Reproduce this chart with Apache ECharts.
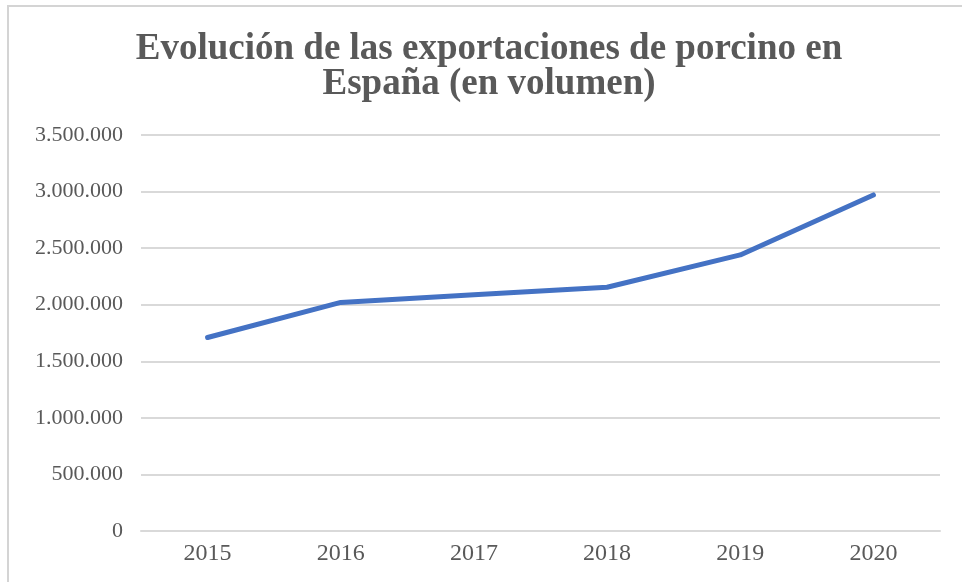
<!DOCTYPE html>
<html>
<head>
<meta charset="utf-8">
<script src="https://cdn.jsdelivr.net/npm/echarts@6/dist/echarts.min.js"></script>
<style>
html,body{margin:0;padding:0;background:#fff;}
#chart{position:absolute;left:0;top:0;width:962px;height:582px;}
#frame{position:absolute;left:7px;top:5px;width:960px;height:590px;border-left:2px solid #d4d4d4;border-top:2px solid #d4d4d4;pointer-events:none;}
</style>
</head>
<body>
<div id="chart"></div>
<div id="frame"></div>
<script>
const titleText = 'Evolución de las exportaciones de porcino en\nEspaña (en volumen)';
const years = ['2015', '2016', '2017', '2018', '2019', '2020'];
const exportVolume = [1710000, 2020000, 2087000, 2154000, 2440000, 2970000];
const yTicks = [0, 500000, 1000000, 1500000, 2000000, 2500000, 3000000, 3500000];

function fmt(v) {
  return String(v).replace(/\B(?=(\d{3})+(?!\d))/g, '.');
}

const chart = echarts.init(document.getElementById('chart'), null, {renderer: 'canvas'});
chart.setOption({
  animation: false,
  backgroundColor: 'transparent',
  title: {
    text: titleText,
    left: 484,
    textAlign: 'center',
    top: 27,
    textStyle: {
      fontFamily: 'Liberation Serif',
      fontWeight: 'bold',
      fontSize: 37,
      lineHeight: 35,
      color: '#595959'
    }
  },
  grid: {left: 141, right: 22, top: 135, bottom: 51, containLabel: false},
  xAxis: {
    type: 'category',
    data: years,
    boundaryGap: true,
    axisLine: {show: true, lineStyle: {color: '#d9d9d9', width: 2}},
    axisTick: {show: false},
    axisLabel: {
      margin: 11,
      fontFamily: 'Liberation Serif',
      fontSize: 24,
      color: '#595959'
    }
  },
  yAxis: {
    type: 'value',
    min: yTicks[0],
    max: yTicks[yTicks.length - 1],
    interval: 500000,
    axisLine: {show: false},
    axisTick: {show: false},
    splitLine: {lineStyle: {color: '#d9d9d9', width: 2}},
    axisLabel: {
      margin: 18,
      fontFamily: 'Liberation Serif',
      fontSize: 22,
      color: '#595959',
      formatter: fmt
    }
  },
  series: [{
    type: 'line',
    data: exportVolume,
    symbol: 'none',
    lineStyle: {color: '#4472C4', width: 5, cap: 'round', join: 'round'}
  }]
});
</script>
</body>
</html>
